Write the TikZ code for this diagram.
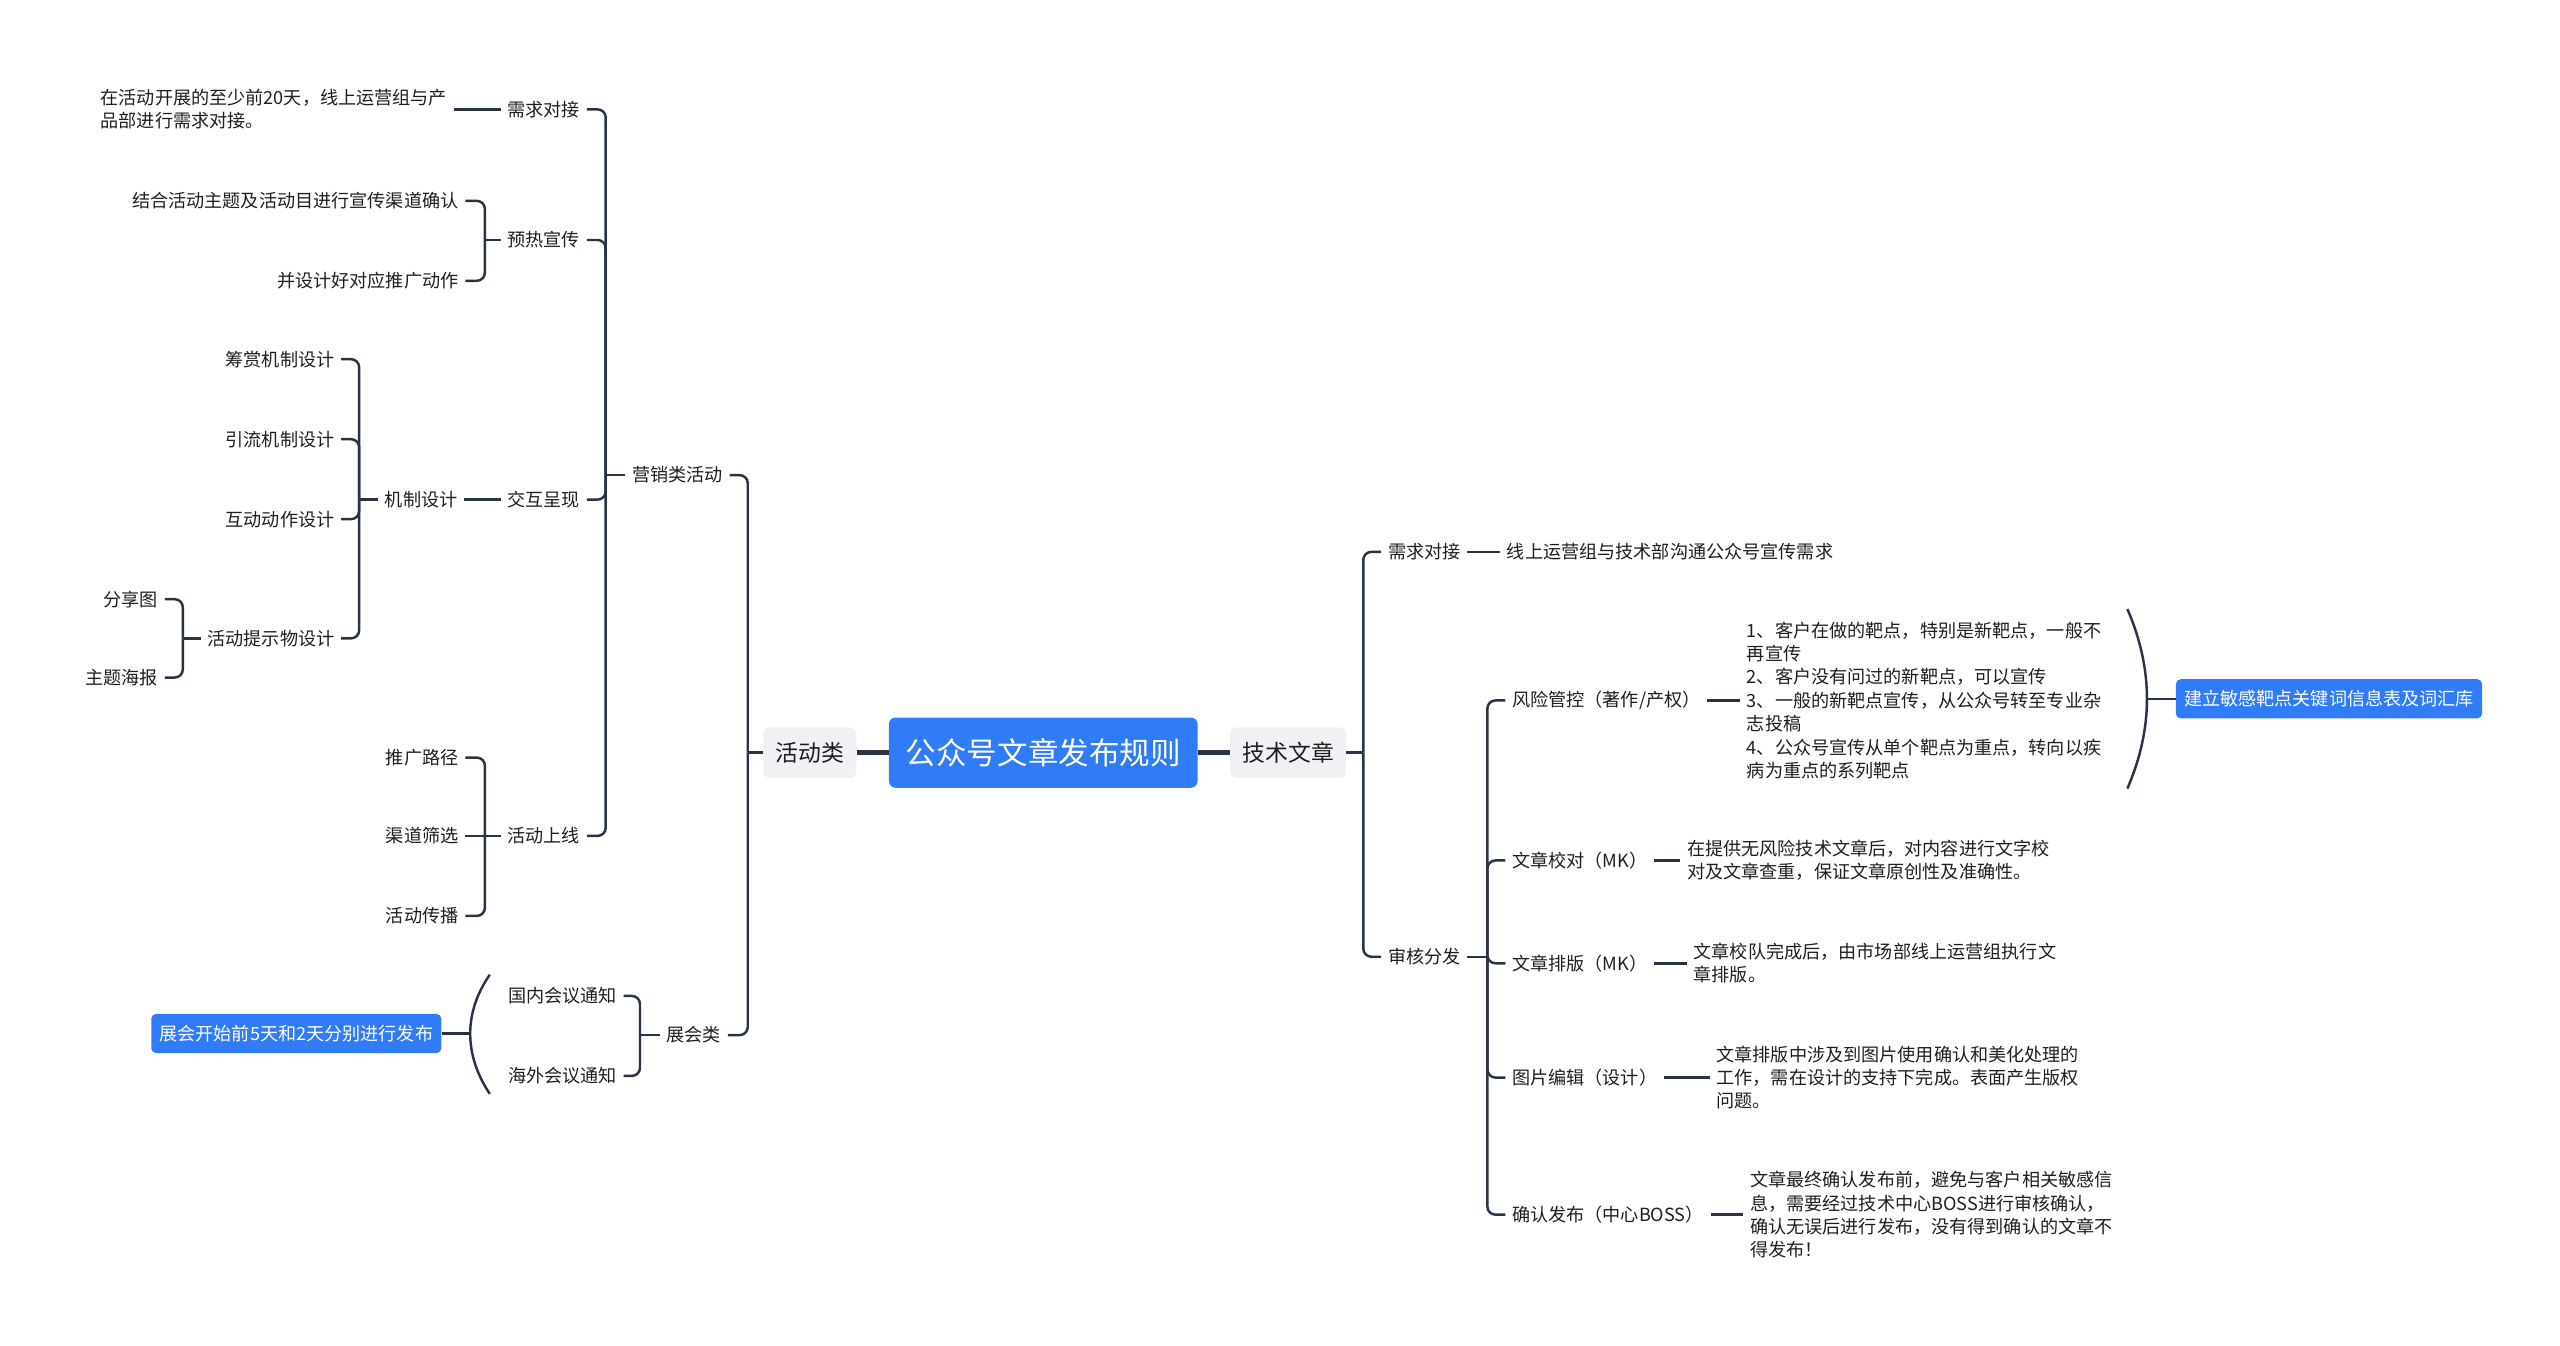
\documentclass[tikz,border=0pt]{standalone}
\usepackage{fontspec}
\setmainfont{Noto Sans CJK SC}
\newfontfamily\cjk{Noto Sans CJK SC}
\usetikzlibrary{positioning}
\definecolor{mapblue}{RGB}{47,124,246}
\definecolor{mapgray}{RGB}{239,241,244}
\definecolor{mapline}{RGB}{40,52,68}
\definecolor{maptext}{RGB}{30,30,30}

\tikzset{
  topic/.style={text=maptext, font=\cjk\fontsize{11.1}{14.3}\selectfont, inner xsep=4pt, inner ysep=2pt, align=left},
  rootbox/.style={fill=mapblue, text=white, rounded corners=4pt, font=\cjk\fontsize{18.7}{22}\selectfont, minimum width=189pt, minimum height=43pt},
  mainbox/.style={fill=mapgray, text=maptext, rounded corners=4pt, font=\cjk\fontsize{14}{16}\selectfont, inner xsep=7.5pt, minimum height=31pt},
  tagbox/.style={fill=mapblue, text=white, rounded corners=3pt, font=\cjk\fontsize{11.1}{13}\selectfont, inner xsep=5pt, minimum height=24pt},
  link/.style={draw=mapline, line width=1.5pt, rounded corners=5pt},
  rootlink/.style={draw=mapline, line width=3pt},
}

\begin{document}
\begin{tikzpicture}[x=1pt,y=-1pt]
  \useasboundingbox (0,0) rectangle (1568,824);

  % centre
  \node[rootbox] (root) at (639,461) {公众号文章发布规则};
  \node[mainbox] (huodong) at (496,461) {活动类};
  \node[mainbox] (jishu) at (789,461) {技术文章};
  \draw[rootlink] (root.west) -- (huodong.east);
  \draw[rootlink] (root.east) -- (jishu.west);

  % left: 活动类
  \node[topic] (yingxiao) at (415,291) {营销类活动};
  \node[topic] (zhanhui) at (425,634) {展会类};
  \coordinate (tA) at (458,461);
  \draw[link] (huodong.west) -- (tA);
  \foreach \c in {yingxiao,zhanhui} \draw[link] (tA) |- (\c.east);

  \node[topic] (xuqiuL) at (333,67) {需求对接};
  \node[topic] (yure) at (333,147) {预热宣传};
  \node[topic] (jiaohu) at (333,306) {交互呈现};
  \node[topic] (shangxian) at (333,512) {活动上线};
  \coordinate (tB) at (371,291);
  \draw[link] (yingxiao.west) -- (tB);
  \foreach \c in {xuqiuL,yure,jiaohu,shangxian} \draw[link] (tB) |- (\c.east);

  \node[topic, anchor=east] (xuqiuNote) at (278,67) {在活动开展的至少前20天，线上运营组与产\\品部进行需求对接。};
  \draw[link] (xuqiuL.west) -- (xuqiuNote.east);

  \node[topic, anchor=east] (yure1) at (285,123) {结合活动主题及活动目进行宣传渠道确认};
  \node[topic, anchor=east] (yure2) at (285,172) {并设计好对应推广动作};
  \coordinate (tC) at (297,147);
  \draw[link] (yure.west) -- (tC);
  \foreach \c in {yure1,yure2} \draw[link] (tC) |- (\c.east);

  \node[topic] (jizhi) at (258,306) {机制设计};
  \draw[link] (jiaohu.west) -- (jizhi.east);
  \node[topic, anchor=east] (jz1) at (209,220) {筹赏机制设计};
  \node[topic, anchor=east] (jz2) at (209,269) {引流机制设计};
  \node[topic, anchor=east] (jz3) at (209,318) {互动动作设计};
  \node[topic, anchor=east] (jz4) at (209,391) {活动提示物设计};
  \coordinate (tD) at (220,306);
  \draw[link] (jizhi.west) -- (tD);
  \foreach \c in {jz1,jz2,jz3,jz4} \draw[link] (tD) |- (\c.east);

  \node[topic, anchor=east] (fenxiang) at (101,367) {分享图};
  \node[topic, anchor=east] (haibao) at (101,415) {主题海报};
  \coordinate (tE) at (112,391);
  \draw[link] (jz4.west) -- (tE);
  \foreach \c in {fenxiang,haibao} \draw[link] (tE) |- (\c.east);

  \node[topic, anchor=east] (tuiguang) at (285,464) {推广路径};
  \node[topic, anchor=east] (qudao) at (285,512) {渠道筛选};
  \node[topic, anchor=east] (chuanbo) at (285,561) {活动传播};
  \coordinate (tF) at (297,512);
  \draw[link] (shangxian.west) -- (qudao.east);
  \foreach \c in {tuiguang,chuanbo} \draw[link] (tF) |- (\c.east);

  \node[topic, anchor=east] (guonei) at (382,610) {国内会议通知};
  \node[topic, anchor=east] (haiwai) at (382,659) {海外会议通知};
  \coordinate (tG) at (392,634);
  \draw[link] (zhanhui.west) -- (tG);
  \foreach \c in {guonei,haiwai} \draw[link] (tG) |- (\c.east);

  % summary of 展会类
  \coordinate (zhTop) at (300,597);
  \coordinate (zhBot) at (300,670);
  \coordinate (zhMid) at (288,633);
  \draw[link] (zhTop) .. controls (284,620) and (284,646) .. (zhBot);
  \node[tagbox] (zhtag) at (181.5,633) {展会开始前5天和2天分别进行发布};
  \draw[link] (zhMid) -- (zhtag.east);

  % right: 技术文章
  \node[topic, anchor=west] (xuqiuR) at (846,338) {需求对接};
  \node[topic, anchor=west] (shenhe) at (846,586) {审核分发};
  \coordinate (tR) at (835,461);
  \draw[link] (jishu.east) -- (tR);
  \foreach \c in {xuqiuR,shenhe} \draw[link] (tR) |- (\c.west);
  \node[topic, right=20pt of xuqiuR] (xuqiuRNote) {线上运营组与技术部沟通公众号宣传需求};
  \draw[link] (xuqiuR.east) -- (xuqiuRNote.west);

  \node[topic, anchor=west] (fengxian) at (922,429) {风险管控（著作/产权）};
  \node[topic, anchor=west] (jiaodui) at (922,527) {文章校对（MK）};
  \node[topic, anchor=west] (paiban) at (922,590) {文章排版（MK）};
  \node[topic, anchor=west] (tupian) at (922,660) {图片编辑（设计）};
  \node[topic, anchor=west] (fabu) at (922,744) {确认发布（中心BOSS）};
  \coordinate (tS) at (911,586);
  \draw[link] (shenhe.east) -- (tS);
  \foreach \c in {fengxian,jiaodui,paiban,tupian,fabu} \draw[link] (tS) |- (\c.west);

  \node[topic, right=20pt of fengxian] (fxNote) {1、客户在做的靶点，特别是新靶点，一般不\\再宣传\\2、客户没有问过的新靶点，可以宣传\\3、一般的新靶点宣传，从公众号转至专业杂\\志投稿\\4、公众号宣传从单个靶点为重点，转向以疾\\病为重点的系列靶点};
  \node[topic, right=16pt of jiaodui] (jdNote) {在提供无风险技术文章后，对内容进行文字校\\对及文章查重，保证文章原创性及准确性。};
  \node[topic, right=20pt of paiban] (pbNote) {文章校队完成后，由市场部线上运营组执行文\\章排版。};
  \node[topic, right=28pt of tupian] (tpNote) {文章排版中涉及到图片使用确认和美化处理的\\工作，需在设计的支持下完成。表面产生版权\\问题。};
  \node[topic, right=20pt of fabu] (fbNote) {文章最终确认发布前，避免与客户相关敏感信\\息，需要经过技术中心BOSS进行审核确认，\\确认无误后进行发布，没有得到确认的文章不\\得发布！};
  \foreach \a/\b in {fengxian/fxNote,jiaodui/jdNote,paiban/pbNote,tupian/tpNote,fabu/fbNote}
    \draw[link] (\a.east) -- (\b.west);

  % summary of 风险管控
  \coordinate (fxTop) at (1303,373);
  \coordinate (fxBot) at (1303,483);
  \coordinate (fxMid) at (1315,428);
  \draw[link] (fxTop) .. controls (1319,410) and (1319,446) .. (fxBot);
  \node[tagbox] (fxtag) at (1426.5,428) {建立敏感靶点关键词信息表及词汇库};
  \draw[link] (fxMid) -- (fxtag.west);
\end{tikzpicture}
\end{document}
